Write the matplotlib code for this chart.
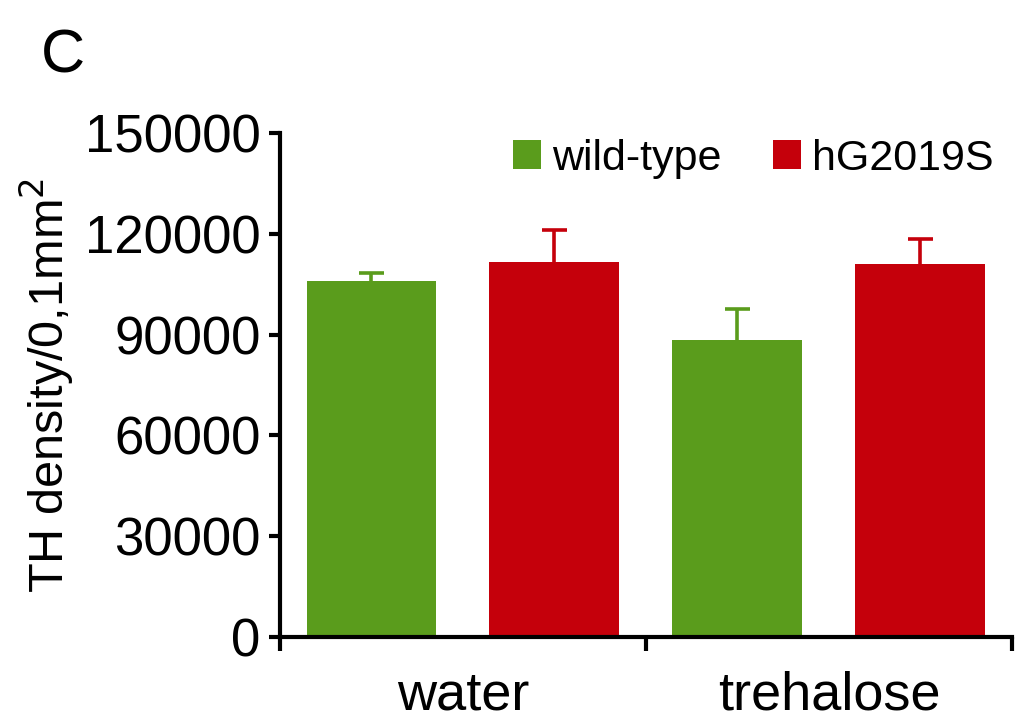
import numpy as np
import matplotlib.pyplot as plt

plt.rcParams['font.family'] = ['Liberation Sans', 'DejaVu Sans']

# datos
grupos = ['water', 'trehalose']
series = ['wild-type', 'hG2019S']
medias = {'wild-type': [106000, 88500], 'hG2019S': [111500, 111000]}
errores = {'wild-type': [2300, 9200], 'hG2019S': [9600, 7400]}
colores = {'wild-type': '#5a9c1c', 'hG2019S': '#c5000b'}

fig = plt.figure(figsize=(10.17, 7.24), dpi=100)
ax = fig.add_axes([0.2753, 0.1202, 0.7197, 0.6961])

x = np.arange(len(grupos))
ancho = 0.355
desplaz = [-0.25, 0.25]
for s, d in zip(series, desplaz):
    ax.bar(x + d, medias[s], ancho, color=colores[s], label=s, zorder=2)
    _, caps, _ = ax.errorbar(x + d, medias[s],
                             yerr=[np.zeros(len(grupos)), errores[s]],
                             fmt='none', ecolor=colores[s], elinewidth=2.6,
                             capsize=9, capthick=2.6, zorder=1)
    # solo la barra de error superior
    caps[0].set_visible(False)

ax.set_xlim(-0.5, 1.5)
ax.set_ylim(0, 150000)
ax.set_yticks(np.arange(0, 150001, 30000))
ax.set_yticklabels([str(v) for v in np.arange(0, 150001, 30000)])
ax.set_xticks(x)
ax.set_xticklabels(grupos)
ax.set_xticks([-0.5, 0.5, 1.5], minor=True)

for lado in ['top', 'right']:
    ax.spines[lado].set_visible(False)
for lado in ['left', 'bottom']:
    ax.spines[lado].set_linewidth(3)

ax.tick_params(axis='y', labelsize=38, width=3, length=8, pad=6)
ax.tick_params(axis='x', which='major', labelsize=39, length=0, pad=24)
ax.tick_params(axis='x', which='minor', width=3, length=10)

ax.set_ylabel('TH density/0,1mm$^2$', fontsize=35, labelpad=6)

ax.legend(loc='upper right', bbox_to_anchor=(1.01, 1.04), frameon=False,
          fontsize=31, ncol=2, handlelength=0.65, handleheight=0.65,
          handletextpad=0.25, columnspacing=1.2, borderaxespad=0.2)

fig.text(0.04, 0.9, 'C', fontsize=44)

fig.savefig('out.png', dpi=100)
